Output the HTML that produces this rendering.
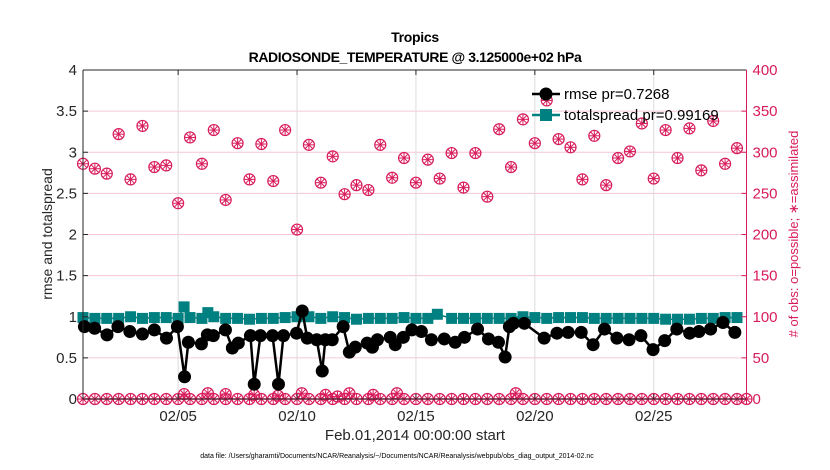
<!DOCTYPE html>
<html><head><meta charset="utf-8"><style>
body{margin:0;background:#fff;}
svg{display:block;font-family:"Liberation Sans",Arial,sans-serif;}
</style></head><body>
<svg id="chart" width="830" height="470" viewBox="0 0 830 470" xmlns="http://www.w3.org/2000/svg">
<rect x="0" y="0" width="830" height="470" fill="#fff"/>
<g id="grid"></g>
<g id="marks"></g>
<g id="axes"></g>
<text x="415" y="42" text-anchor="middle" font-size="14" font-weight="bold" fill="#000" letter-spacing="-0.3">Tropics</text>
<text x="415" y="62" text-anchor="middle" font-size="14" font-weight="bold" fill="#000" letter-spacing="-0.4">RADIOSONDE_TEMPERATURE @ 3.125000e+02 hPa</text>
<text transform="translate(52,234) rotate(-90)" text-anchor="middle" font-size="14" fill="#262626">rmse and totalspread</text>
<text transform="translate(798,234) rotate(-90)" text-anchor="middle" font-size="13" fill="#d81b5a"># of obs: o=possible; ∗=assimilated</text>
<text x="415" y="440" text-anchor="middle" font-size="15" fill="#262626">Feb.01,2014 00:00:00 start</text>
<text x="397" y="458" text-anchor="middle" font-size="7" fill="#000">data file: /Users/gharamti/Documents/NCAR/Reanalysis/~/Documents/NCAR/Reanalysis/webpub/obs_diag_output_2014-02.nc</text>
<g id="legend"></g>
</svg>
<script>
// ---- data ----
const rmseTimes = [0.06,0.49,1.01,1.47,1.97,2.50,3.00,3.51,3.97,4.27,4.43,4.98,5.23,5.48,5.99,6.28,6.53,7.04,7.20,7.46,7.97,8.22,8.43,8.98,9.22,9.43,9.83,10.06,10.19,10.48,10.94,11.20,11.45,11.95,12.16,12.17,12.38,12.92,13.13,13.47,13.83,14.23,14.65,15.19,15.65,16.04,16.59,17.05,17.47,17.75,17.93,18.10,18.56,19.39,19.93,20.40,20.95,21.45,21.93,22.45,22.96,23.46,23.97,24.46,24.97,25.51,25.90,26.39,26.91,27.41];
const rmseVals  = [0.88,0.86,0.78,0.88,0.82,0.79,0.84,0.74,0.88,0.27,0.69,0.67,0.78,0.77,0.84,0.62,0.68,0.77,0.18,0.77,0.77,0.18,0.77,0.80,1.07,0.74,0.72,0.34,0.72,0.72,0.88,0.57,0.63,0.68,0.63,0.63,0.72,0.75,0.66,0.75,0.84,0.82,0.72,0.73,0.69,0.75,0.85,0.73,0.69,0.51,0.88,0.92,0.92,0.74,0.80,0.81,0.81,0.66,0.85,0.74,0.72,0.77,0.60,0.71,0.85,0.80,0.82,0.85,0.93,0.81];
const spreadTimes = [0,0.5,1,1.5,2,2.5,3,3.5,4,4.25,4.5,5,5.25,5.5,6,6.5,7,7.5,8,8.5,9,9.5,10,10.5,11,11.5,12,12.5,13,13.5,14,14.5,14.9,15.5,16,16.5,17,17.5,18,18.2,18.5,19,19.5,20,20.5,21,21.5,22,22.5,23,23.5,24,24.5,25,25.5,26,26.5,27,27.5];
const spreadVals  = [0.99,0.98,0.98,0.98,1.00,0.98,0.99,0.99,0.98,1.12,0.99,0.98,1.05,1.00,0.98,0.98,0.97,0.98,0.98,0.99,1.00,1.00,0.98,1.00,0.99,0.97,0.98,0.98,0.98,0.99,0.98,0.98,1.03,0.98,0.98,0.98,0.98,0.98,0.98,0.94,1.00,0.99,0.98,0.99,0.99,0.99,0.98,0.98,0.98,0.98,0.98,0.98,0.97,0.97,0.97,0.98,0.98,0.99,0.99];
const possibleVals = [286,280,274,322,267,332,282,284,238,318,286,327,242,311,267,310,265,327,206,309,263,295,249,260,254,309,269,293,263,291,268,299,257,299,246,328,282,340,311,363,316,306,267,320,260,293,301,335,268,327,293,329,278,338,286,305];
const possibleStep = 0.5;
const lowTimes = [4.25,5.25,6.0,7.2,8.2,9.2,10.2,10.7,11.2,12.2,13.2,18.2];
const lowVals  = [6,7,6,5,4,7,5,3,7,5,7,7];
const yTicks = [0,0.5,1,1.5,2,2.5,3,3.5,4];
const yTickLabels = ["0","0.5","1","1.5","2","2.5","3","3.5","4"];
const y2Ticks = [0,50,100,150,200,250,300,350,400];
const xTicks = [4,9,14,19,24];
const xTickLabels = ["02/05","02/10","02/15","02/20","02/25"];

// ---- axes ----
const L=83, R=746.5, T=70, B=399, XMAX=27.9;
const xs = t => L + t/XMAX*(R-L);
const ys = v => B - v/4*(B-T);
const y2s = v => B - v/400*(B-T);
const NS="http://www.w3.org/2000/svg";
function mk(tag, attrs, parent){const e=document.createElementNS(NS,tag);for(const k in attrs)e.setAttribute(k,attrs[k]);parent.appendChild(e);return e;}
const grid=document.getElementById('grid'), marks=document.getElementById('marks'), axes=document.getElementById('axes'), legend=document.getElementById('legend');
const MAG="#d81b5a";

yTicks.forEach((v,i)=>{
  const g=mk('line',{x1:L,x2:R,y1:ys(v),y2:ys(v),stroke:'#f4c6d6','stroke-width':1},grid);
  
  
  mk('line',{x1:L,x2:L+5,y1:ys(v),y2:ys(v),stroke:'#262626'},axes);
  const t=mk('text',{x:L-6,y:ys(v)+5,'text-anchor':'end','font-size':15,fill:'#262626'},axes);
  t.textContent=yTickLabels[i];
  
  
});
y2Ticks.forEach(v=>{
  mk('line',{x1:R-5,x2:R,y1:y2s(v),y2:y2s(v),stroke:MAG},axes);
  const t=mk('text',{x:R+6,y:y2s(v)+5,'font-size':15,fill:MAG},axes);
  t.textContent=String(v);
  
  
});
xTicks.forEach((d,i)=>{
  const g=mk('line',{x1:xs(d),x2:xs(d),y1:T,y2:B,stroke:'#dcdcdc'},grid);
  
  
  mk('line',{x1:xs(d),x2:xs(d),y1:B,y2:B-5,stroke:'#262626'},axes);
  mk('line',{x1:xs(d),x2:xs(d),y1:T,y2:T+5,stroke:'#262626'},axes);
  const t=mk('text',{x:xs(d),y:B+22,'text-anchor':'middle','font-size':15,fill:'#262626'},axes);
  t.textContent=xTickLabels[i];
  
  
});
mk('line',{x1:L,x2:R,y1:T,y2:T,stroke:'#262626'},axes);
mk('line',{x1:L,x2:R,y1:B,y2:B,stroke:'#262626'},axes);
mk('line',{x1:L,x2:L,y1:T,y2:B,stroke:'#262626'},axes);
mk('line',{x1:R,x2:R,y1:T,y2:B,stroke:MAG},axes);

function obsMarker(cx,cy,parent){
  const g=mk('g',{},parent);
  mk('circle',{cx:cx,cy:cy,r:5.5,fill:'none',stroke:MAG,'stroke-width':1.2},g);
  const r=5;
  for(let k=0;k<4;k++){const a=k*Math.PI/4;mk('line',{x1:cx-r*Math.cos(a),y1:cy-r*Math.sin(a),x2:cx+r*Math.cos(a),y2:cy+r*Math.sin(a),stroke:MAG,'stroke-width':1},g);}
  return g;
}
possibleVals.forEach((v,i)=>{
  const g=obsMarker(xs(i*possibleStep),y2s(v),marks);
  
  
});
for(let i=0;i<=56;i++){
  const g=obsMarker(Math.min(xs(i*possibleStep),R),y2s(0),marks);
  
  
}
mk('line',{x1:L,x2:R,y1:B,y2:B,stroke:MAG,'stroke-width':1.5},marks);
lowTimes.forEach((t,i)=>{
  const g=obsMarker(xs(t),y2s(lowVals[i]),marks);
  
  
});
const sp=mk('polyline',{points:spreadTimes.map((t,i)=>xs(t)+','+ys(spreadVals[i])).join(' '),fill:'none',stroke:'#008080','stroke-width':1.5},marks);


spreadTimes.forEach((t,i)=>{
  const r=mk('rect',{x:xs(t)-5.5,y:ys(spreadVals[i])-5.5,width:11,height:11,fill:'#008080'},marks);
  
  
});
const rl=mk('polyline',{points:rmseTimes.map((t,i)=>xs(t)+','+ys(rmseVals[i])).join(' '),fill:'none',stroke:'#000','stroke-width':2.5},marks);


rmseTimes.forEach((t,i)=>{
  const c=mk('circle',{cx:xs(t),cy:ys(rmseVals[i]),r:6.5,fill:'#000'},marks);
  
  
});
[['rmse pr=0.7268','#000','c',94],['totalspread pr=0.99169','#008080','s',115]].forEach(([lab,col,shape,y])=>{
  mk('line',{x1:532,x2:560,y1:y,y2:y,stroke:col,'stroke-width':2.5},legend);
  if(shape==='c') mk('circle',{cx:546,cy:y,r:6.5,fill:col},legend);
  else mk('rect',{x:540,y:y-6,width:12,height:12,fill:col},legend);
  const t=mk('text',{x:564,y:y+5,'font-size':15,fill:'#000'},legend);
  t.textContent=lab;
  
  
});
</script>
</body></html>
